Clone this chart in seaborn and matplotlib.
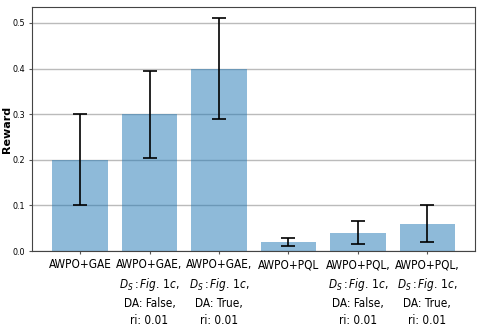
import matplotlib
matplotlib.use("Agg")
import matplotlib.pyplot as plt
import seaborn as sns
import pandas as pd

# values
methods = [
    "AWPO+GAE",
    "AWPO+GAE,\n$D_S: Fig.\\,1c$,\nDA: False,\nri: 0.01",
    "AWPO+GAE,\n$D_S: Fig.\\,1c$,\nDA: True,\nri: 0.01",
    "AWPO+PQL",
    "AWPO+PQL,\n$D_S: Fig.\\,1c$,\nDA: False,\nri: 0.01",
    "AWPO+PQL,\n$D_S: Fig.\\,1c$,\nDA: True,\nri: 0.01",
]
rewards = [0.20, 0.30, 0.40, 0.02, 0.04, 0.06]
errors = [0.10, 0.095, 0.11, 0.008, 0.025, 0.04]

df = pd.DataFrame({"method": methods, "reward": rewards, "err": errors})

# condensed DejaVu to get the narrow look of the original labels
plt.rcParams["mathtext.fontset"] = "custom"
plt.rcParams["mathtext.it"] = "DejaVu Sans:italic:stretch=condensed"
plt.rcParams["mathtext.rm"] = "DejaVu Sans:stretch=condensed"

fig, ax = plt.subplots(figsize=(4.8, 3.27), dpi=100)
sns.barplot(data=df, x="method", y="reward", color="tab:blue", alpha=0.5,
            saturation=1, width=0.8, errorbar=None, ax=ax, zorder=2)
ax.errorbar(range(len(methods)), df["reward"], yerr=df["err"], fmt="none",
            ecolor="black", capsize=5, elinewidth=1.2, capthick=1.2, zorder=3)

ax.set_ylim(0, 0.535)
ax.set_xlim(-0.69, 5.69)
ax.yaxis.grid(True, color="#bbbbbb", linewidth=1, zorder=0)
ax.set_axisbelow(True)
ax.set_xlabel("")
ax.set_ylabel("Reward", fontsize=8, fontweight="bold")
ax.tick_params(axis="both", length=2.5, pad=2.5, color="#555555")
for lab in ax.get_yticklabels():
    lab.set_fontstretch("condensed")
    lab.set_fontsize(6.5)
for lab in ax.get_xticklabels():
    lab.set_fontstretch("condensed")
    lab.set_fontsize(8.5)
    lab.set_linespacing(1.4)
for s in ax.spines.values():
    s.set_color("#444444")

plt.subplots_adjust(left=0.067, right=0.99, top=0.979, bottom=0.232)
ax.yaxis.set_label_coords(-0.045, 0.5)
plt.savefig("out.png", dpi=100)
